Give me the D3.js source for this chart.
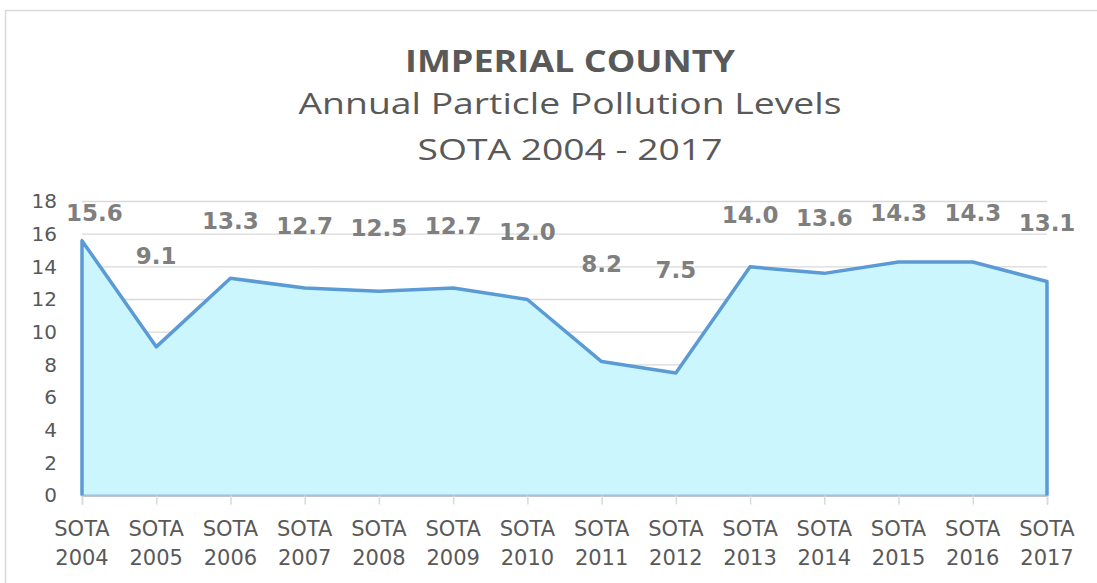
<!DOCTYPE html>
<html>
<head>
<meta charset="utf-8">
<script src="https://cdn.jsdelivr.net/npm/d3@7"></script>
<style>
  html, body { margin: 0; padding: 0; background: #ffffff; }
  svg { display: block; }
</style>
</head>
<body>
<div id="chart"></div>
<script>
// data
const categories = ['2004', '2005', '2006', '2007', '2008', '2009', '2010',
                    '2011', '2012', '2013', '2014', '2015', '2016', '2017'];
const values = [15.6, 9.1, 13.3, 12.7, 12.5, 12.7, 12.0, 8.2, 7.5, 14.0, 13.6, 14.3, 14.3, 13.1];
const yTicks = [0, 2, 4, 6, 8, 10, 12, 14, 16, 18];
const titleLines = ['IMPERIAL COUNTY', 'Annual Particle Pollution Levels', 'SOTA 2004 - 2017'];
const catPrefix = 'SOTA';

const width = 1097, height = 583;

const svg = d3.select('#chart')
    .append('svg')
    .attr('width', width)
    .attr('height', height);

// chart frame
svg.append('rect')
    .attr('x', 5.5).attr('y', 10.5)
    .attr('width', width + 20).attr('height', height + 20)
    .attr('fill', '#ffffff')
    .attr('stroke', '#d9d9d9')
    .attr('stroke-width', 1.5);

// titles
const titleFont = '"Open Sans", "Noto Sans", sans-serif';
const titleSpecs = [
    {y: 72, len: 330, weight: 'bold'},
    {y: 114, len: 543, weight: 'normal'},
    {y: 160, len: 305, weight: 'normal'}
];
titleLines.forEach((t, i) => {
    svg.append('text')
        .attr('x', 570)
        .attr('y', titleSpecs[i].y)
        .attr('text-anchor', 'middle')
        .attr('font-family', titleFont)
        .attr('font-size', 30)
        .attr('font-weight', titleSpecs[i].weight)
        .attr('fill', '#595959')
        .attr('textLength', titleSpecs[i].len)
        .attr('lengthAdjust', 'spacingAndGlyphs')
        .text(t);
});

// scales
const xScale = d3.scalePoint()
    .domain(categories)
    .range([82, 1047]);

const yScale = d3.scaleLinear()
    .domain([0, 18])
    .range([495.5, 201.5]);

// Excel pushed the labels into a squeezed band above the line
const labelScale = d3.scaleLinear()
    .domain([7.5, 14.3])
    .range([277.5, 220.5])
    .clamp(true);

const axisFont = '"DejaVu Sans", Verdana, sans-serif';

// gridlines
svg.append('g')
    .selectAll('line')
    .data(yTicks.filter(d => d > 0))
    .join('line')
    .attr('x1', xScale.range()[0])
    .attr('x2', xScale.range()[1])
    .attr('y1', d => yScale(d))
    .attr('y2', d => yScale(d))
    .attr('stroke', '#d9d9d9')
    .attr('stroke-width', 1.3);

// y axis labels
const yAxis = svg.append('g')
    .attr('transform', 'translate(' + 82 + ',0)')
    .call(d3.axisLeft(yScale).tickValues(yTicks).tickSize(0).tickPadding(25));
yAxis.select('.domain').remove();
yAxis.selectAll('text')
    .attr('font-family', axisFont)
    .attr('font-size', 20)
    .attr('fill', '#595959');

// area
const pts = categories.map((c, i) => ({c: c, v: values[i]}));

const area = d3.area()
    .x(d => xScale(d.c))
    .y0(yScale(0))
    .y1(d => yScale(d.v));

svg.append('path')
    .datum(pts)
    .attr('d', area)
    .attr('fill', '#ccf6fd')
    .attr('stroke', '#8fbce6')
    .attr('stroke-width', 2);

// x axis
const xAxis = svg.append('g')
    .attr('transform', 'translate(0,' + yScale(0) + ')')
    .call(d3.axisBottom(xScale).tickSize(9).tickFormat(''));
xAxis.select('.domain')
    .attr('stroke', '#bfbfbf')
    .attr('stroke-width', 1.3);
xAxis.selectAll('.tick line')
    .attr('stroke', '#d9d9d9')
    .attr('stroke-width', 1.5);

// outline on top (sides + top edge)
const outline = d3.line()
    .x(d => xScale(d.c))
    .y(d => yScale(d.v));

const outlinePts = [{c: categories[0], v: 0}].concat(pts, [{c: categories[categories.length - 1], v: 0}]);

svg.append('path')
    .datum(outlinePts)
    .attr('d', outline)
    .attr('fill', 'none')
    .attr('stroke', '#5b9bd5')
    .attr('stroke-width', 3.5)
    .attr('stroke-linejoin', 'round');

// category labels
const catLabels = svg.append('g')
    .selectAll('text')
    .data(categories)
    .join('text')
    .attr('x', d => xScale(d))
    .attr('text-anchor', 'middle')
    .attr('font-family', axisFont)
    .attr('font-size', 21)
    .attr('fill', '#595959');
catLabels.append('tspan')
    .attr('x', d => xScale(d))
    .attr('y', 536)
    .text(catPrefix);
catLabels.append('tspan')
    .attr('x', d => xScale(d))
    .attr('y', 565)
    .text(d => d);

// data labels
svg.append('g')
    .selectAll('text')
    .data(pts)
    .join('text')
    .attr('y', d => labelScale(d.v))
    .attr('text-anchor', 'middle')
    .attr('font-family', axisFont)
    .attr('font-size', 23)
    .attr('font-weight', 'bold')
    .attr('fill', '#7f7f7f')
    .text(d => d.v.toFixed(1))
    .attr('x', function(d) {
        const w = this.getComputedTextLength();
        return Math.max(xScale(d.c), 66 + w / 2);
    });
</script>
</body>
</html>
